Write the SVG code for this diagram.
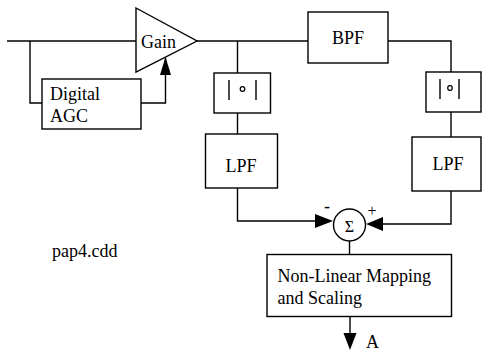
<svg xmlns="http://www.w3.org/2000/svg" width="482" height="352" viewBox="0 0 482 352">
<style>
.b{fill:#fff;stroke:#000;stroke-width:1.4}
.l{fill:none;stroke:#000;stroke-width:1.4}
text{font-family:"Liberation Serif","Times New Roman",serif;font-size:18px;fill:#000}
.c{text-anchor:middle}
</style>
<defs>
<marker id="ah" viewBox="0 0 10 10" refX="10" refY="5" markerWidth="10" markerHeight="10" markerUnits="userSpaceOnUse" orient="auto">
<path d="M0,0 L10,5 L0,10 Z" fill="#000"/>
</marker>
</defs>
<g id="connectors">
<path class="l" d="M7,41 H136"/>
<path class="l" d="M30,41 V103 H42"/>
<path class="l" d="M141,103 H165.5 V58"/>
<path d="M165.5,57 L160,75 L171,75 Z" fill="#000"/>
<path class="l" d="M197,41 H308"/>
<path class="l" d="M237.5,41 V73"/>
<path class="l" d="M237.5,113 V134"/>
<path class="l" d="M388,41 H451 V72"/>
<path class="l" d="M451,112 V137"/>
<path class="l" d="M237.5,188 V221 H316"/>
<path d="M333,221 L315,214 L315,228 Z" fill="#000"/>
<path class="l" d="M451,191 V224 H382"/>
<path d="M366,224 L383,217 L383,231 Z" fill="#000"/>
<path class="l" d="M349.5,241 V254"/>
<path class="l" d="M350,317 V334"/>
<path d="M350,350 L343.5,333 L356.5,333 Z" fill="#000"/>
</g>
<g id="gain">
<path class="b" d="M136,8 L197,41 L136,72 Z"/>
<text x="141" y="48">Gain</text>
</g>
<g id="agc">
<rect class="b" x="42" y="79" width="99" height="50"/>
<text x="50" y="100">Digital</text>
<text x="50" y="122">AGC</text>
</g>
<g id="bpf">
<rect class="b" x="308" y="12" width="80" height="51"/>
<text class="c" x="348" y="44">BPF</text>
</g>
<g id="abs1">
<rect class="b" x="214" y="73" width="56.5" height="40"/>
<path class="l" d="M229,80 V100 M256,80 V100"/>
<circle cx="242.5" cy="89" r="2.3" fill="none" stroke="#000" stroke-width="1.2"/>
</g>
<g id="abs2">
<rect class="b" x="426" y="72" width="55" height="40"/>
<path class="l" d="M440,79 V99 M459,79 V99"/>
<circle cx="450" cy="88" r="2.3" fill="none" stroke="#000" stroke-width="1.2"/>
</g>
<g id="lpf1">
<rect class="b" x="205.5" y="134" width="72" height="54"/>
<text class="c" x="241" y="172">LPF</text>
</g>
<g id="lpf2">
<rect class="b" x="412" y="137" width="69" height="54"/>
<text class="c" x="448" y="170">LPF</text>
</g>
<g id="sum">
<circle class="b" cx="349.5" cy="225" r="16"/>
<text class="c" x="349.5" y="232" style="font-size:16px">Σ</text>
<text class="c" x="327" y="212">-</text>
<text class="c" x="372" y="216" style="font-size:16px">+</text>
</g>
<g id="nlm">
<rect class="b" x="267" y="254.5" width="184.5" height="62"/>
<text x="277.5" y="282">Non-Linear Mapping</text>
<text x="277.5" y="304">and Scaling</text>
</g>
<text x="366" y="348">A</text>
<text x="52" y="257">pap4.cdd</text>
</svg>
